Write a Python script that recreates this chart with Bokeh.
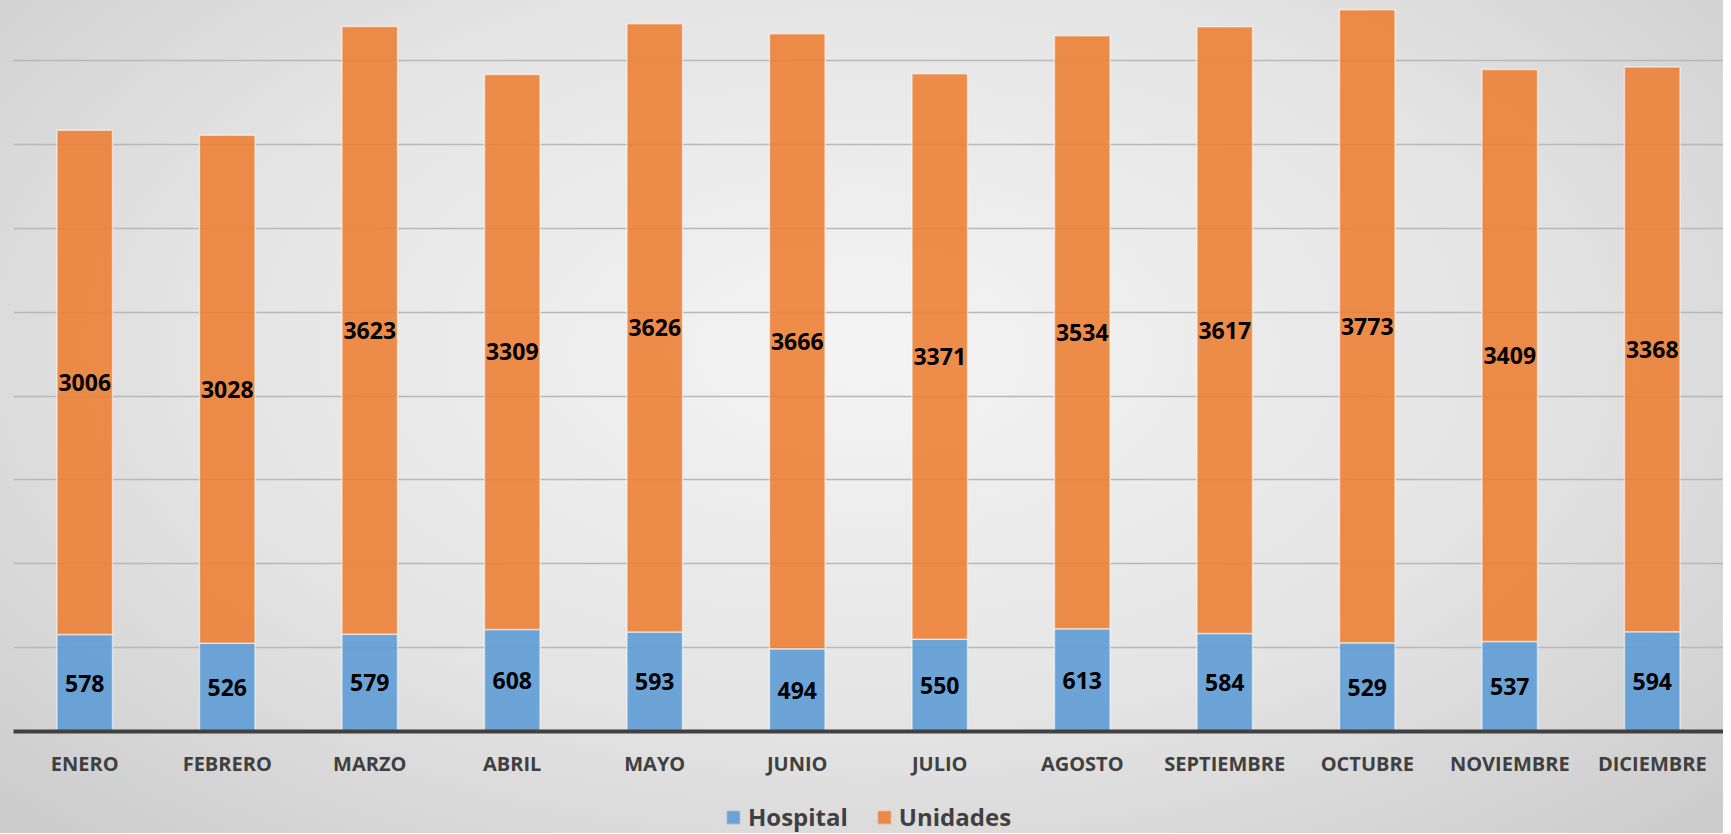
from bokeh.plotting import figure
from bokeh.layouts import column
from bokeh.models import ColumnDataSource, Legend, LegendItem, FactorRange, SingleIntervalTicker
from bokeh.core.properties import value
from bokeh.embed import file_html
from bokeh.resources import INLINE

months = ["ENERO", "FEBRERO", "MARZO", "ABRIL", "MAYO", "JUNIO", "JULIO",
          "AGOSTO", "SEPTIEMBRE", "OCTUBRE", "NOVIEMBRE", "DICIEMBRE"]
hospital = [578, 526, 579, 608, 593, 494, 550, 613, 584, 529, 537, 594]
unidades = [3006, 3028, 3623, 3309, 3626, 3666, 3371, 3534, 3617, 3773, 3409, 3368]
series_names = ["Hospital", "Unidades"]

src = ColumnDataSource(dict(
    m=months,
    h=hospital,
    u=unidades,
    top=[a + b for a, b in zip(hospital, unidades)],
    hy=[a / 2 for a in hospital],
    uy=[a + b / 2 for a, b in zip(hospital, unidades)],
    hl=[str(a) for a in hospital],
    ul=[str(b) for b in unidades],
))

BLUE = "#5B9BD5"
ORANGE = "#ED7D31"

p = figure(x_range=FactorRange(*months, range_padding=0), y_range=(0, 4310),
           frame_width=1710, frame_height=723, output_backend="svg", toolbar_location=None,
           min_border_left=13, min_border_right=0, min_border_top=8, min_border_bottom=44)
p.border_fill_color = None
p.background_fill_color = None
p.outline_line_color = None

p.vbar(x="m", top="h", bottom=0, width=0.39, source=src, fill_color=BLUE,
       fill_alpha=0.88, line_color="white", line_alpha=0.55, line_width=1.5)
p.vbar(x="m", top="top", bottom="h", width=0.39, source=src, fill_color=ORANGE,
       fill_alpha=0.88, line_color="white", line_alpha=0.55, line_width=1.5)

p.text(x="m", y="hy", text="hl", source=src, text_align="center", text_baseline="middle",
       text_font=value("Open Sans"), text_font_style="bold", text_font_size="23px",
       text_color="black")
p.text(x="m", y="uy", text="ul", source=src, text_align="center", text_baseline="middle",
       text_font=value("Open Sans"), text_font_style="bold", text_font_size="23px",
       text_color="black")

p.yaxis.visible = False
p.ygrid.ticker = SingleIntervalTicker(interval=500)
p.ygrid.grid_line_color = "#B8B8B8"
p.ygrid.grid_line_width = 1.5
p.xgrid.visible = False

p.xaxis.axis_line_color = "#404040"
p.xaxis.axis_line_width = 4
p.xaxis.major_tick_line_color = None
p.xaxis.minor_tick_line_color = None
p.xaxis.major_label_standoff = 12
p.xaxis.major_label_text_font = "Open Sans"
p.xaxis.major_label_text_font_style = "bold"
p.xaxis.major_label_text_font_size = "20px"
p.xaxis.major_label_text_color = "#404040"

# legend strip
lf = figure(x_range=(0, 1), y_range=(0, 1), frame_width=1710, frame_height=54,
            output_backend="svg", toolbar_location=None,
            min_border_left=13, min_border_right=0, min_border_top=0, min_border_bottom=0)
lf.border_fill_color = None
lf.background_fill_color = None
lf.outline_line_color = None
lf.axis.visible = False
lf.grid.visible = False
lb = lf.vbar(x=[0.5], top=[1], bottom=[0], width=0.1, fill_color=BLUE, fill_alpha=0.88,
             line_color="#8DB8E3", line_alpha=0.8, visible=False)
lo = lf.vbar(x=[0.5], top=[1], bottom=[0], width=0.1, fill_color=ORANGE, fill_alpha=0.88,
             line_color="#F2A470", line_alpha=0.8, visible=False)
legend = Legend(items=[LegendItem(label=series_names[0], renderers=[lb]),
                       LegendItem(label=series_names[1], renderers=[lo])],
                orientation="horizontal", location="bottom_center",
                background_fill_alpha=0, border_line_color=None,
                inactive_fill_alpha=0, click_policy="none",
                glyph_width=16, glyph_height=16, label_standoff=7, spacing=28,
                label_text_font="Open Sans", label_text_font_style="bold",
                label_text_font_size="24px", label_text_color="#404040",
                margin=0, padding=6)
lf.add_layout(legend)

layout = column(p, lf, spacing=0)
layout.styles = {"background": "radial-gradient(ellipse farthest-corner at 50% 42%, #F4F4F4 0%, #E4E4E4 55%, #CBCBCB 100%)"}

open("out.html", "w").write(file_html(layout, INLINE))
